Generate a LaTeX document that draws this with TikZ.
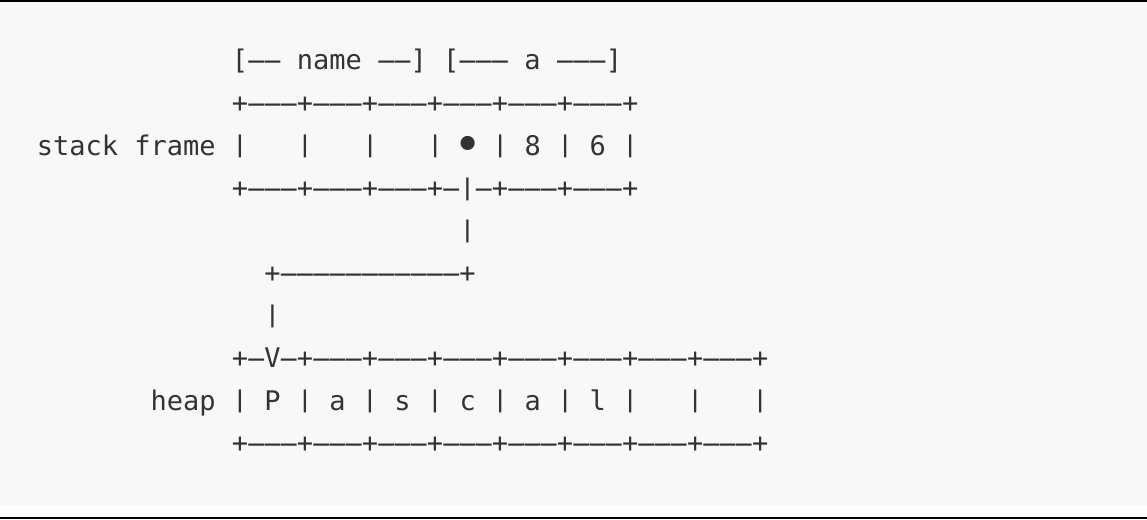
\documentclass[tikz,border=0pt]{standalone}
\usepackage{fontspec}
\usepackage{graphicx}
\setmonofont{DejaVu Sans Mono}
\definecolor{bggray}{HTML}{F8F8F8}
\definecolor{ink}{HTML}{333333}
\newcommand{\asD}{\makebox[0.602em][c]{\scalebox{2.3}[1]{-}}}
\newcommand{\asV}{\makebox[0.602em][c]{\raisebox{2.4pt}{\scalebox{1}[0.85]{|}}}}
\newcommand{\asBu}{\makebox[0.602em][c]{\raisebox{-6.3pt}{\scalebox{1.8}{•}}}}
\newcommand{\asT}{\asD\asD\asD}
\tikzset{
  asc/.style={anchor=base west, inner sep=0pt, outer sep=0pt, text=ink,
    font=\fontsize{27}{27}\selectfont\ttfamily},
}
\newcommand{\colx}[1]{36.9+16.25*#1}
\newcommand{\rowy}[1]{-70-42.5*#1}
\begin{document}
\begin{tikzpicture}[x=1pt,y=1pt]
\useasboundingbox (0,0) rectangle (1147,-519);
\fill[white] (0,0) rectangle (1147,-519);
\fill[bggray] (0,-2.5) rectangle (1147,-505);
\fill[black] (0,0) rectangle (1147,-2.5);
\fill[black] (0,-516.8) rectangle (1147,-519);
\node[asc] (l0) at ({\colx{12}},{\rowy{0}}) {[\asD\asD~name~\asD\asD]~[\asT~a~\asT]};
\node[asc] (l1) at ({\colx{12}},{\rowy{1}}) {+\asT+\asT+\asT+\asT+\asT+\asT+};
\node[asc] (l2) at ({\colx{0}},{\rowy{2}}) {stack~frame~\asV~~~\asV~~~\asV~~~\asV~\asBu~\asV~8~\asV~6~\asV};
\node[asc] (l3) at ({\colx{12}},{\rowy{3}}) {+\asT+\asT+\asT+\asD\asV\asD+\asT+\asT+};
\node[asc] (l4) at ({\colx{26}},{\rowy{4}}) {\asV};
\node[asc] (l5) at ({\colx{14}},{\rowy{5}}) {+\asT\asT\asT\asD\asD+};
\node[asc] (l6) at ({\colx{14}},{\rowy{6}}) {\asV};
\node[asc] (l7) at ({\colx{12}},{\rowy{7}}) {+\asD{}V\asD+\asT+\asT+\asT+\asT+\asT+\asT+\asT+};
\node[asc] (l8) at ({\colx{7}},{\rowy{8}}) {heap~\asV~P~\asV~a~\asV~s~\asV~c~\asV~a~\asV~l~\asV~~~\asV~~~\asV};
\node[asc] (l9) at ({\colx{12}},{\rowy{9}}) {+\asT+\asT+\asT+\asT+\asT+\asT+\asT+\asT+};
\end{tikzpicture}
\end{document}
